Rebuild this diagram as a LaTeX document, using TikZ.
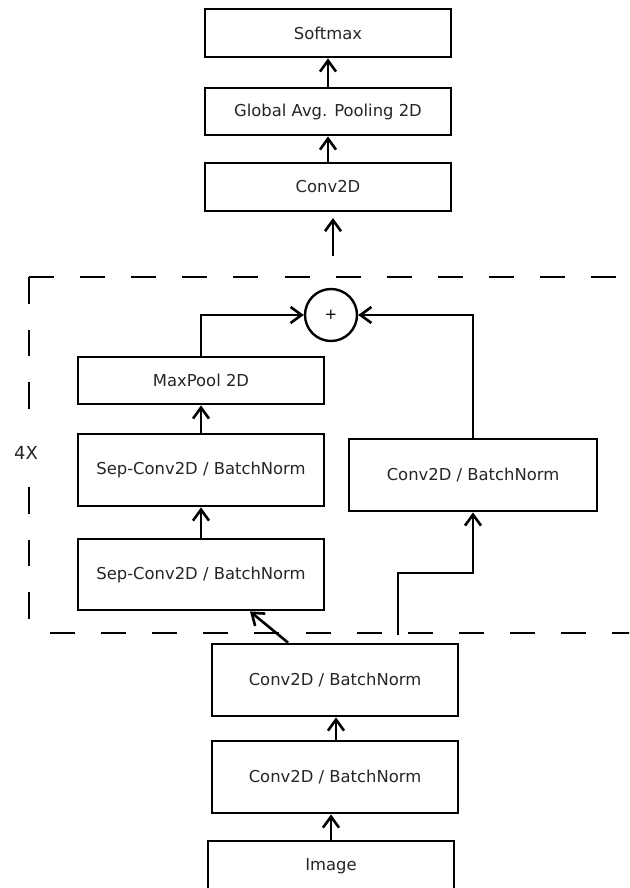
\documentclass[tikz,border=0pt]{standalone}
\usepackage{fontspec}
\setmainfont{DejaVu Sans}
\usetikzlibrary{arrows.meta}
\begin{document}
\begin{tikzpicture}[x=1pt,y=-1pt,
  box/.style={draw, line width=2.8pt, rectangle, inner sep=0pt, minimum width=246pt,
    font=\fontsize{16.4}{18}\selectfont, text=black!85},
  arr/.style={line width=2.6pt, -{Straight Barb[length=11pt,width=16pt,line width=2.6pt]}},
  hdash/.style={line width=2.6pt, dash pattern=on 25pt off 26.1pt},
  vdash/.style={line width=2.6pt, dash pattern=on 26.5pt off 26pt},
  lbl/.style={font=\fontsize{18}{20}\selectfont, text=black!85, fill=white,
    inner xsep=3pt, minimum height=54pt}]
\clip (0,0) rectangle (629,888);
\fill[white] (0,0) rectangle (629,888);
% top stack
\node[box, minimum height=48pt] (softmax) at (328,33) {Softmax};
\node[box, minimum height=47pt] (gap) at (328,111.5) {Global Avg. Pooling 2D};
\node[box, minimum height=48pt] (conv) at (328,187) {Conv2D};
\coordinate (inbase) at (333,256);
\coordinate (intip) at (333,218);
% block
\node[draw, circle, line width=2.4pt, minimum size=52pt, inner sep=0pt,
  font=\fontsize{15}{16}\selectfont] (plus) at (331,315) {+};
\node[box, minimum height=47pt] (maxpool) at (201,380.5) {MaxPool 2D};
\node[box, minimum height=72pt] (sep1) at (201,470) {Sep-Conv2D / BatchNorm};
\node[box, minimum height=71pt] (sep2) at (201,574.5) {Sep-Conv2D / BatchNorm};
\node[box, minimum width=248pt, minimum height=72pt] (rconv) at (473,475) {Conv2D / BatchNorm};
% bottom stack
\node[box, minimum height=72pt] (bn1) at (335,680) {Conv2D / BatchNorm};
\node[box, minimum height=72pt] (bn2) at (335,777) {Conv2D / BatchNorm};
\node[box, minimum height=50pt] (image) at (331,866) {Image};
\coordinate (split) at (398,635);
% dashed frame
\draw[vdash] (29,277) -- (29,633);
\draw[hdash] (29,277) -- (660,277);
\draw[hdash] (50,633) -- (660,633);
\node[lbl] (rep) at (26,453) {4X};
% connectors
\draw[arr] (gap.north) -- (softmax.south);
\draw[arr] (conv.north) -- (gap.south);
\draw[arr] (inbase) -- (intip);
\draw[arr] (maxpool.north) |- (plus.west);
\draw[arr] (rconv.north) |- (plus.east);
\draw[arr] (sep1.north) -- (maxpool.south);
\draw[arr] (sep2.north) -- (sep1.south);
\draw[arr] ([xshift=-47pt]bn1.north) -- ([xshift=49pt]sep2.south);
\draw[arr] (split) -- ++(0,-62) -| (rconv.south);
\draw[arr] ([xshift=1pt]bn2.north) -- ([xshift=1pt]bn1.south);
\draw[arr] (image.north) -- (image.north |- bn2.south);
\end{tikzpicture}
\end{document}
